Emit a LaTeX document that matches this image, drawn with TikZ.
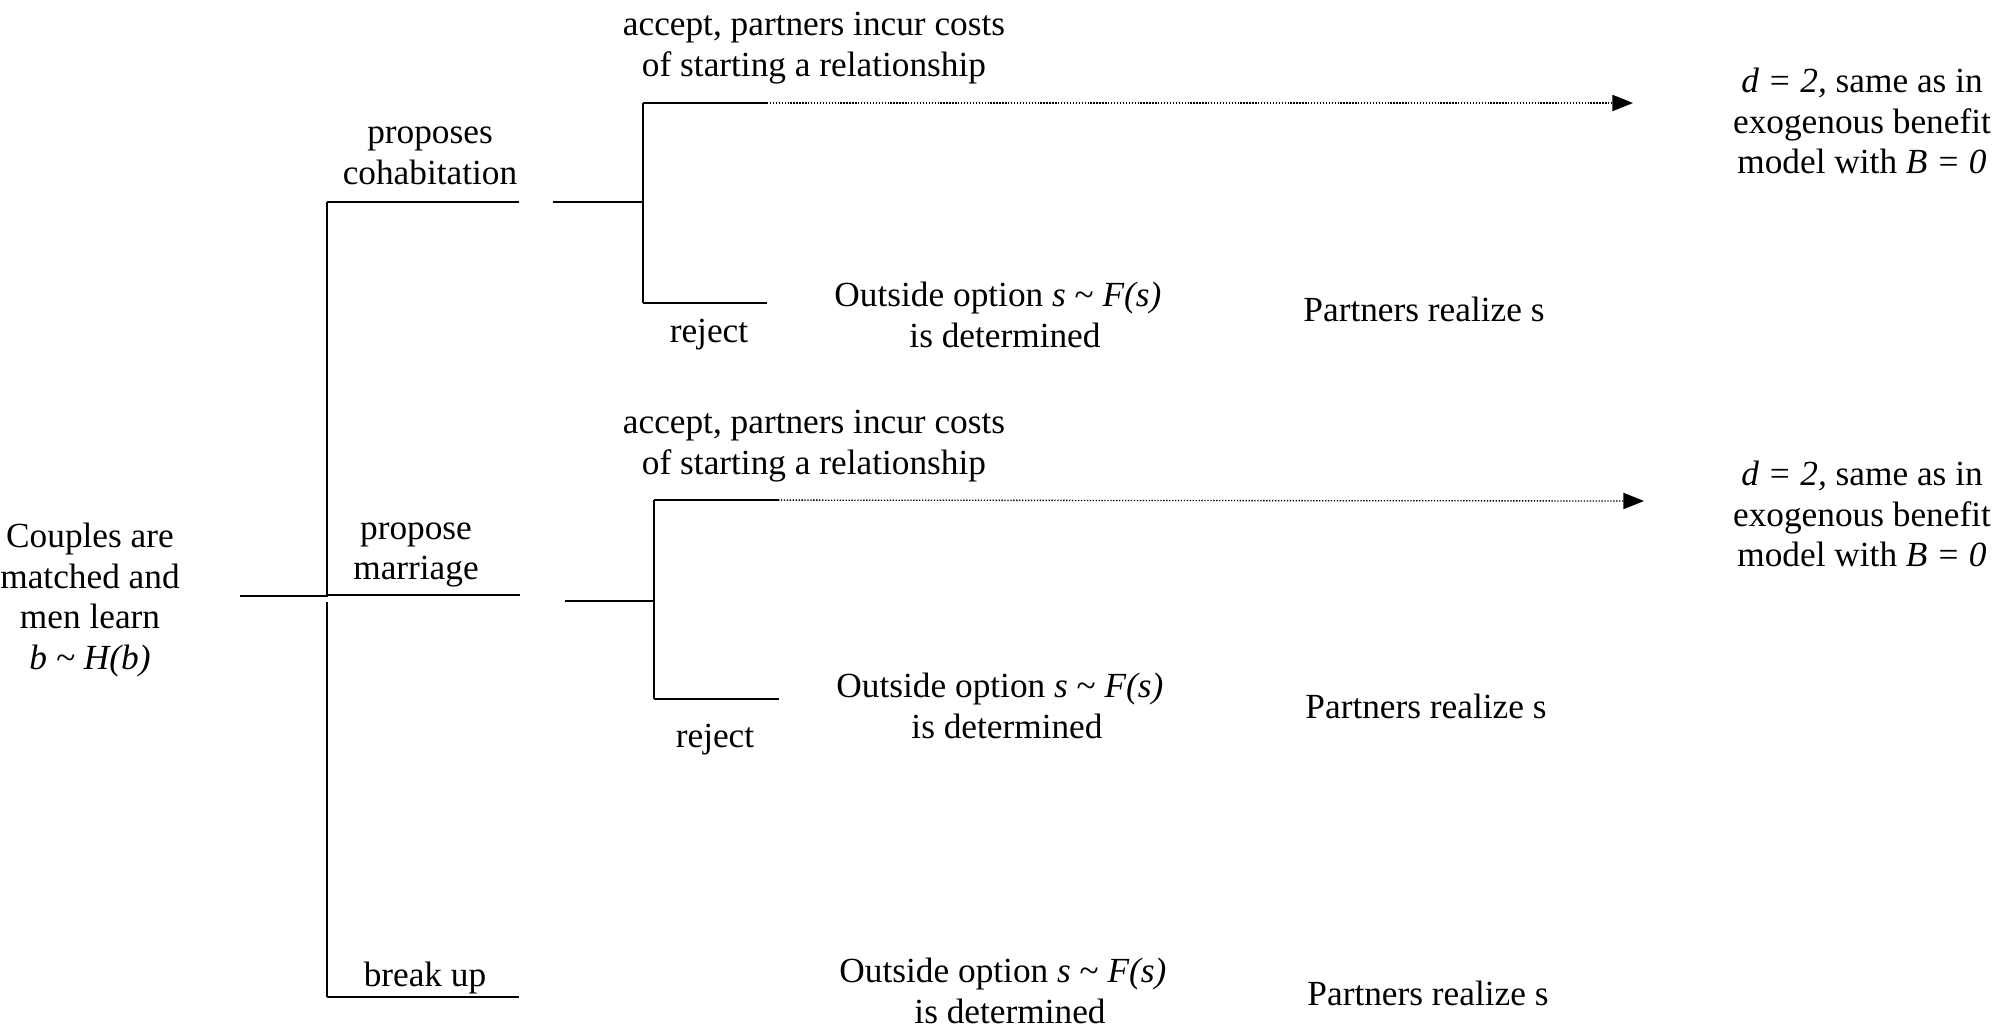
\documentclass[tikz,border=0pt]{standalone}
\usepackage{fontspec}
\setmainfont{Liberation Serif}
\usetikzlibrary{arrows.meta}
\begin{document}
\begin{tikzpicture}[x=0.34pt,y=-0.34pt,
  txt/.style={inner sep=0pt,align=center,font=\fontsize{12}{13.8}\selectfont},
  hline/.style={line width=0.9pt},
  vline/.style={line width=0.6pt},
  dotline/.style={line width=0.45pt,dash pattern=on 0.45pt off 0.55pt,
    -{Triangle[length=7pt,width=5.5pt]}}]
\useasboundingbox (0,0) rectangle (1996,1029);
% coordinates
\coordinate (r0) at (240,596);
\coordinate (vtop) at (327,202);
\coordinate (vmidA) at (327,597);
\coordinate (vmidB) at (327,602);
\coordinate (vbot) at (327,997);
\coordinate (r1) at (327,596);
\coordinate (c1) at (519,202);
\coordinate (c2a) at (553,202);
\coordinate (b1) at (643,202);
\coordinate (b1t) at (643,103);
\coordinate (b1b) at (643,303);
\coordinate (a1e) at (767,103);
\coordinate (d1s) at (664,103);
\coordinate (d1e) at (1633,103);
\coordinate (j1e) at (767,303);
\coordinate (m0) at (327,595);
\coordinate (m1) at (520,595);
\coordinate (m2a) at (565,601);
\coordinate (b2) at (654,601);
\coordinate (b2t) at (654,500);
\coordinate (b2b) at (654,699);
\coordinate (a2e) at (779,500);
\coordinate (d2s) at (675,500);
\coordinate (d2e) at (1644,501);
\coordinate (j2e) at (779,699);
\coordinate (k1) at (519,997);
% lines
\draw[hline] (r0) -- (r1);
\draw[vline] (vtop) -- (vmidA);
\draw[vline] (vmidB) -- (vbot);
\draw[hline] (vtop) -- (c1);
\draw[hline] (c2a) -- (b1);
\draw[vline] (b1t) -- (b1b);
\draw[hline] (b1t) -- (a1e);
\draw[dotline] (d1s) -- (d1e);
\draw[hline] (b1b) -- (j1e);
\draw[hline] (m0) -- (m1);
\draw[hline] (m2a) -- (b2);
\draw[vline] (b2t) -- (b2b);
\draw[hline] (b2t) -- (a2e);
\draw[dotline] (d2s) -- (d2e);
\draw[hline] (b2b) -- (j2e);
\draw[hline] (vbot) -- (k1);
% texts
\node[txt] (root) at (90,600) {Couples are\\matched and\\men learn\\\textit{b \textasciitilde{} H(b)}};
\node[txt] (cohab) at (430,156) {proposes\\cohabitation};
\node[txt] (acc1) at (814,48) {accept, partners incur costs\\of starting a relationship};
\node[txt] (rej1) at (709,335) {reject};
\node[txt] (out1) at (1005,315) {Outside option \textit{s} \textasciitilde{} \textit{F(s)}\hspace*{0.4em}\\is determined};
\node[txt] (real1) at (1424,309) {Partners realize s};
\node[txt] (res1) at (1862,121) {\textit{d = 2,} same as in\\exogenous benefit\\model with \textit{B = 0}};
\node[txt] (marr) at (416,555) {propose\\marriage};
\node[txt] (acc2) at (814,446) {accept, partners incur costs\\of starting a relationship};
\node[txt] (rej2) at (715,740) {reject};
\node[txt] (out2) at (1007,706) {Outside option \textit{s} \textasciitilde{} \textit{F(s)}\hspace*{0.4em}\\is determined};
\node[txt] (real2) at (1426,706) {Partners realize s};
\node[txt] (res2) at (1862,514) {\textit{d = 2,} same as in\\exogenous benefit\\model with \textit{B = 0}};
\node[txt] (brk) at (425,978) {break up};
\node[txt] (out3) at (1010,991) {Outside option \textit{s} \textasciitilde{} \textit{F(s)}\hspace*{0.4em}\\is determined};
\node[txt] (real3) at (1428,993) {Partners realize s};
\end{tikzpicture}
\end{document}
